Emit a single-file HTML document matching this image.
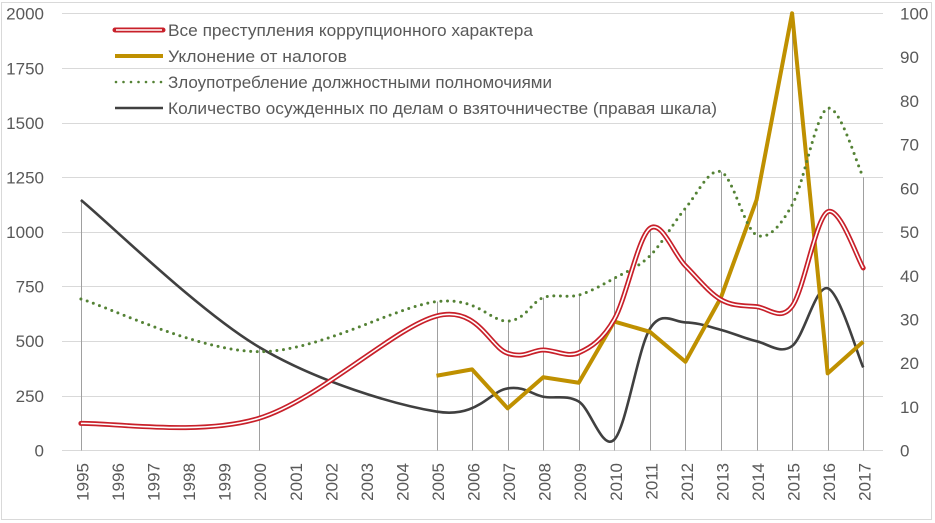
<!DOCTYPE html>
<html><head><meta charset="utf-8"><style>
html,body{margin:0;padding:0;background:#fff;}
svg{display:block;}
text{font-family:"Liberation Sans","DejaVu Sans",sans-serif;fill:#595959;}
</style></head><body>
<svg id="c" width="935" height="523" viewBox="0 0 935 523" xmlns="http://www.w3.org/2000/svg">
<rect x="1.5" y="2.5" width="930" height="517" fill="#fff" stroke="#d9d9d9" stroke-width="1"/>
<g stroke="#d9d9d9" stroke-width="1">
<line x1="62" x2="883" y1="13.5" y2="13.5"/>
<line x1="62" x2="883" y1="68.5" y2="68.5"/>
<line x1="62" x2="883" y1="123.5" y2="123.5"/>
<line x1="62" x2="883" y1="177.5" y2="177.5"/>
<line x1="62" x2="883" y1="232.5" y2="232.5"/>
<line x1="62" x2="883" y1="286.5" y2="286.5"/>
<line x1="62" x2="883" y1="341.5" y2="341.5"/>
<line x1="62" x2="883" y1="396.5" y2="396.5"/>
<line x1="62" x2="883" y1="450.5" y2="450.5"/>
</g>
<g id="drops" stroke="#a0a0a0" stroke-width="1"></g>
<g id="series"></g>
<g font-size="17" text-anchor="end">
<text x="44" y="19.5">2000</text>
<text x="44" y="74.5">1750</text>
<text x="44" y="129">1500</text>
<text x="44" y="183.5">1250</text>
<text x="44" y="238">1000</text>
<text x="44" y="292.5">750</text>
<text x="44" y="347">500</text>
<text x="44" y="402">250</text>
<text x="44" y="456.5">0</text>
</g>
<g font-size="17" text-anchor="start">
<text x="900" y="19.5">100</text>
<text x="900" y="63">90</text>
<text x="900" y="107">80</text>
<text x="900" y="150.5">70</text>
<text x="900" y="194.5">60</text>
<text x="900" y="238">50</text>
<text x="900" y="282">40</text>
<text x="900" y="325.5">30</text>
<text x="900" y="369">20</text>
<text x="900" y="413">10</text>
<text x="900" y="456.5">0</text>
</g>
<g font-size="17" text-anchor="end">
<text transform="translate(88.4,463) rotate(-90)">1995</text>
<text transform="translate(124,463) rotate(-90)">1996</text>
<text transform="translate(159.5,463) rotate(-90)">1997</text>
<text transform="translate(195.1,463) rotate(-90)">1998</text>
<text transform="translate(230.6,463) rotate(-90)">1999</text>
<text transform="translate(266.2,463) rotate(-90)">2000</text>
<text transform="translate(301.8,463) rotate(-90)">2001</text>
<text transform="translate(337.3,463) rotate(-90)">2002</text>
<text transform="translate(372.9,463) rotate(-90)">2003</text>
<text transform="translate(408.4,463) rotate(-90)">2004</text>
<text transform="translate(444,463) rotate(-90)">2005</text>
<text transform="translate(479.6,463) rotate(-90)">2006</text>
<text transform="translate(515.1,463) rotate(-90)">2007</text>
<text transform="translate(550.7,463) rotate(-90)">2008</text>
<text transform="translate(586.2,463) rotate(-90)">2009</text>
<text transform="translate(621.8,463) rotate(-90)">2010</text>
<text transform="translate(657.4,463) rotate(-90)">2011</text>
<text transform="translate(692.9,463) rotate(-90)">2012</text>
<text transform="translate(728.5,463) rotate(-90)">2013</text>
<text transform="translate(764,463) rotate(-90)">2014</text>
<text transform="translate(799.6,463) rotate(-90)">2015</text>
<text transform="translate(835.2,463) rotate(-90)">2016</text>
<text transform="translate(870.7,463) rotate(-90)">2017</text>
</g>
<!-- legend -->
<line x1="115" x2="163" y1="30" y2="30" stroke="#c8202a" stroke-width="5" stroke-linecap="round"/>
<line x1="116" x2="162" y1="30" y2="30" stroke="#fff" stroke-width="1.5"/>
<line x1="115" x2="163" y1="56" y2="56" stroke="#bf9000" stroke-width="4"/>
<line x1="116" x2="163" y1="82" y2="82" stroke="#548235" stroke-width="2.6" stroke-linecap="round" stroke-dasharray="0 7.5"/>
<line x1="115" x2="163" y1="108" y2="108" stroke="#404040" stroke-width="2.6"/>
<g font-size="16.5">
<text x="168" y="36" textLength="365" lengthAdjust="spacingAndGlyphs">Все преступления коррупционного характера</text>
<text x="168" y="62" textLength="179" lengthAdjust="spacingAndGlyphs">Уклонение от налогов</text>
<text x="168" y="88" textLength="384" lengthAdjust="spacingAndGlyphs">Злоупотребление должностными полномочиями</text>
<text x="168" y="114" textLength="549" lengthAdjust="spacingAndGlyphs">Количество осужденных по делам о взяточничестве (правая шкала)</text>
</g>
</svg>
<script>
(function(){
var NS="http://www.w3.org/2000/svg";
function X(y){return 80.9+35.56*(y-1995);}
function YL(v){return 450.5-v*0.21861;}
function YR(r){return 450.5-r*4.3722;}
var red=[[1995,124],[2000,147],[2005,615],[2007,445],[2008,460],[2009,447],[2010,600],[2011,1016],[2012,845],[2013,690],[2014,658],[2015,660],[2016,1092],[2017,835]];
var green=[[1995,693],[2000,452],[2005,681],[2007,592],[2008,699],[2009,711],[2010,788],[2011,890],[2012,1108],[2013,1275],[2014,986],[2015,1123],[2016,1565],[2017,1250]];
var gold=[[2005,342],[2006,371],[2007,193],[2008,335],[2009,310],[2010,590],[2011,543],[2012,406],[2013,700],[2014,1146],[2015,2000],[2016,353],[2017,498]];
var black=[[1995,57.3],[2000,23.7],[2005,8.9],[2007,14.2],[2008,12.3],[2009,11.2],[2010,2.5],[2011,27.8],[2012,29.3],[2013,27.6],[2014,25],[2015,23.9],[2016,37.1],[2017,19]];
function pts(d,f){return d.map(function(p){return [X(p[0]),f(p[1])];});}
function smooth(P){
 var s="M"+P[0][0].toFixed(2)+","+P[0][1].toFixed(2);
 for(var i=0;i<P.length-1;i++){
  var p0=P[i>0?i-1:i],p1=P[i],p2=P[i+1],p3=P[i+2<P.length?i+2:i+1];
  var c1=[p1[0]+(p2[0]-p0[0])/6,p1[1]+(p2[1]-p0[1])/6];
  var c2=[p2[0]-(p3[0]-p1[0])/6,p2[1]-(p3[1]-p1[1])/6];
  s+=" C"+c1[0].toFixed(2)+","+c1[1].toFixed(2)+" "+c2[0].toFixed(2)+","+c2[1].toFixed(2)+" "+p2[0].toFixed(2)+","+p2[1].toFixed(2);
 }
 return s;
}
function straight(P){return "M"+P.map(function(p){return p[0].toFixed(2)+","+p[1].toFixed(2);}).join(" L");}
var g=document.getElementById("series");
function path(d,attrs){var e=document.createElementNS(NS,"path");e.setAttribute("d",d);e.setAttribute("fill","none");for(var k in attrs)e.setAttribute(k,attrs[k]);g.appendChild(e);}
var Pr=pts(red,YL),Pg=pts(green,YL),Pgo=pts(gold,YL),Pb=pts(black,YR);
var top={};
[Pr,Pg,Pgo,Pb].forEach(function(P){P.forEach(function(p){var k=Math.round(p[0]);if(top[k]===undefined||p[1]<top[k][1])top[k]=p;});});
var dg=document.getElementById("drops");
for(var k in top){var p=top[k];var l=document.createElementNS(NS,"line");var xx=Math.round(p[0])+0.5;l.setAttribute("x1",xx);l.setAttribute("x2",xx);l.setAttribute("y1",p[1]);l.setAttribute("y2",450.5);dg.appendChild(l);}
path(smooth(Pb),{stroke:"#404040","stroke-width":"2.6","stroke-linejoin":"round"});
path(straight(Pgo),{stroke:"#bf9000","stroke-width":"4","stroke-linejoin":"round"});
path(smooth(Pg),{stroke:"#548235","stroke-width":"3","stroke-linecap":"round","stroke-dasharray":"0 6.6"});
var rd=smooth(Pr);
path(rd,{stroke:"#c8202a","stroke-width":"5","stroke-linejoin":"round","stroke-linecap":"round"});
path(rd,{stroke:"#ffffff","stroke-width":"1.6","stroke-linejoin":"round"});
})();
</script>
</body></html>
